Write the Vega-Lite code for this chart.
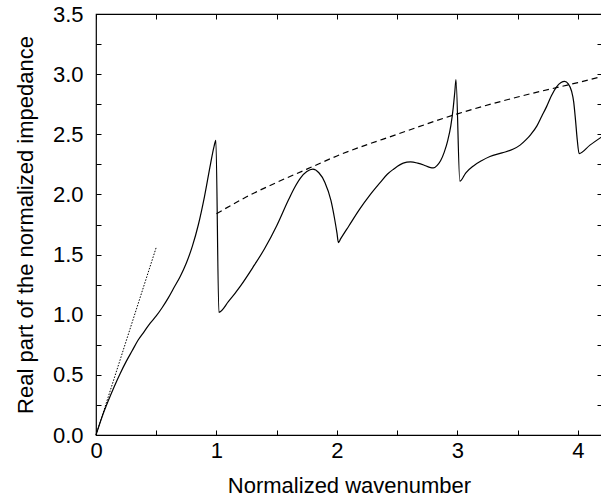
{
  "$schema": "https://vega.github.io/schema/vega-lite/v6.json",
  "autosize": "none",
  "width": 506,
  "height": 421,
  "padding": {"left": 96, "top": 14, "right": 0, "bottom": 64},
  "background": "white",
  "config": {
    "view": {"stroke": "black", "strokeWidth": 1.2}
  },
  "data": {"values": [
    {"s": "solid", "x": 0, "y": 0},
    {"s": "solid", "x": 0.05, "y": 0.15},
    {"s": "solid", "x": 0.1, "y": 0.28},
    {"s": "solid", "x": 0.15, "y": 0.4},
    {"s": "solid", "x": 0.2, "y": 0.51},
    {"s": "solid", "x": 0.25, "y": 0.61},
    {"s": "solid", "x": 0.3, "y": 0.7},
    {"s": "solid", "x": 0.35, "y": 0.79},
    {"s": "solid", "x": 0.4, "y": 0.86},
    {"s": "solid", "x": 0.45, "y": 0.93},
    {"s": "solid", "x": 0.5, "y": 0.99},
    {"s": "solid", "x": 0.55, "y": 1.06},
    {"s": "solid", "x": 0.6, "y": 1.14},
    {"s": "solid", "x": 0.65, "y": 1.23},
    {"s": "solid", "x": 0.7, "y": 1.32},
    {"s": "solid", "x": 0.75, "y": 1.43},
    {"s": "solid", "x": 0.8, "y": 1.57},
    {"s": "solid", "x": 0.85, "y": 1.75},
    {"s": "solid", "x": 0.9, "y": 1.98},
    {"s": "solid", "x": 0.95, "y": 2.25},
    {"s": "solid", "x": 0.98, "y": 2.4},
    {"s": "solid", "x": 0.995, "y": 2.45},
    {"s": "solid", "x": 1.02, "y": 1.02},
    {"s": "solid", "x": 1.1, "y": 1.11},
    {"s": "solid", "x": 1.2, "y": 1.24},
    {"s": "solid", "x": 1.3, "y": 1.39},
    {"s": "solid", "x": 1.4, "y": 1.55},
    {"s": "solid", "x": 1.5, "y": 1.74},
    {"s": "solid", "x": 1.6, "y": 1.96},
    {"s": "solid", "x": 1.65, "y": 2.06},
    {"s": "solid", "x": 1.7, "y": 2.14},
    {"s": "solid", "x": 1.75, "y": 2.19},
    {"s": "solid", "x": 1.8, "y": 2.21},
    {"s": "solid", "x": 1.85, "y": 2.18},
    {"s": "solid", "x": 1.9, "y": 2.1},
    {"s": "solid", "x": 1.95, "y": 1.95},
    {"s": "solid", "x": 1.98, "y": 1.8},
    {"s": "solid", "x": 2.0, "y": 1.68},
    {"s": "solid", "x": 2.012, "y": 1.6},
    {"s": "solid", "x": 2.03, "y": 1.63},
    {"s": "solid", "x": 2.1, "y": 1.74},
    {"s": "solid", "x": 2.19, "y": 1.88},
    {"s": "solid", "x": 2.27, "y": 1.99},
    {"s": "solid", "x": 2.36, "y": 2.1},
    {"s": "solid", "x": 2.42, "y": 2.17},
    {"s": "solid", "x": 2.47, "y": 2.21},
    {"s": "solid", "x": 2.55, "y": 2.26},
    {"s": "solid", "x": 2.61, "y": 2.27},
    {"s": "solid", "x": 2.67, "y": 2.26},
    {"s": "solid", "x": 2.72, "y": 2.245},
    {"s": "solid", "x": 2.77, "y": 2.225},
    {"s": "solid", "x": 2.8, "y": 2.22},
    {"s": "solid", "x": 2.83, "y": 2.24},
    {"s": "solid", "x": 2.86, "y": 2.28},
    {"s": "solid", "x": 2.89, "y": 2.35},
    {"s": "solid", "x": 2.92, "y": 2.45},
    {"s": "solid", "x": 2.945, "y": 2.57},
    {"s": "solid", "x": 2.965, "y": 2.72},
    {"s": "solid", "x": 2.978, "y": 2.85},
    {"s": "solid", "x": 2.988, "y": 2.955},
    {"s": "solid", "x": 3.02, "y": 2.11},
    {"s": "solid", "x": 3.07, "y": 2.18},
    {"s": "solid", "x": 3.13, "y": 2.235},
    {"s": "solid", "x": 3.2, "y": 2.28},
    {"s": "solid", "x": 3.27, "y": 2.315},
    {"s": "solid", "x": 3.37, "y": 2.345},
    {"s": "solid", "x": 3.46, "y": 2.375},
    {"s": "solid", "x": 3.52, "y": 2.41},
    {"s": "solid", "x": 3.57, "y": 2.455},
    {"s": "solid", "x": 3.61, "y": 2.5},
    {"s": "solid", "x": 3.66, "y": 2.57},
    {"s": "solid", "x": 3.7, "y": 2.65},
    {"s": "solid", "x": 3.74, "y": 2.73},
    {"s": "solid", "x": 3.78, "y": 2.82},
    {"s": "solid", "x": 3.82, "y": 2.89},
    {"s": "solid", "x": 3.86, "y": 2.93},
    {"s": "solid", "x": 3.89, "y": 2.94},
    {"s": "solid", "x": 3.92, "y": 2.92},
    {"s": "solid", "x": 3.947, "y": 2.86},
    {"s": "solid", "x": 3.965, "y": 2.77},
    {"s": "solid", "x": 3.98, "y": 2.62},
    {"s": "solid", "x": 3.995, "y": 2.45},
    {"s": "solid", "x": 4.01, "y": 2.34},
    {"s": "solid", "x": 4.1, "y": 2.41},
    {"s": "solid", "x": 4.2, "y": 2.48},
    {"s": "dashed", "x": 1.0, "y": 1.84},
    {"s": "dashed", "x": 1.25, "y": 1.98},
    {"s": "dashed", "x": 1.5, "y": 2.1},
    {"s": "dashed", "x": 1.75, "y": 2.21},
    {"s": "dashed", "x": 2.0, "y": 2.32},
    {"s": "dashed", "x": 2.5, "y": 2.5},
    {"s": "dashed", "x": 3.0, "y": 2.67},
    {"s": "dashed", "x": 3.5, "y": 2.81},
    {"s": "dashed", "x": 4.0, "y": 2.93},
    {"s": "dashed", "x": 4.2, "y": 2.98},
    {"s": "dotted", "x": 0, "y": 0},
    {"s": "dotted", "x": 0.5, "y": 1.56}
  ]},
  "layer": [
    {
      "transform": [{"filter": "datum.s === 'solid'"}],
      "mark": {"type": "line", "color": "black", "strokeWidth": 1.2, "interpolate": "monotone"},
      "encoding": {
        "x": {"field": "x", "type": "quantitative", "scale": {"domain": [0, 4.2], "nice": false, "zero": false},
          "axis": {"orient": "bottom", "grid": false, "domain": false, "tickSize": -5, "tickColor": "black", "values": [0, 0.5, 1, 1.5, 2, 2.5, 3, 3.5, 4], "format": ".0f", "labelExpr": "datum.value % 1 === 0 ? datum.label : ''", "labelFlush": false, "labelPadding": 10, "labelFont": "Liberation Sans", "labelFontSize": 22, "labelColor": "black", "title": "Normalized wavenumber", "titleFont": "Liberation Sans", "titleFontSize": 22, "titleFontWeight": "normal", "titleColor": "black", "titlePadding": 14}},
        "y": {"field": "y", "type": "quantitative", "scale": {"domain": [0, 3.5], "nice": false, "zero": false},
          "axis": {"orient": "left", "grid": false, "domain": false, "tickSize": -5, "tickColor": "black", "values": [0, 0.25, 0.5, 0.75, 1, 1.25, 1.5, 1.75, 2, 2.25, 2.5, 2.75, 3, 3.25, 3.5], "format": ".1f", "labelExpr": "(datum.value * 2) % 1 === 0 ? datum.label : ''", "labelFlush": false, "labelPadding": 18, "labelFont": "Liberation Sans", "labelFontSize": 22, "labelColor": "black", "title": "Real part of the normalized impedance", "titleFont": "Liberation Sans", "titleFontSize": 22, "titleFontWeight": "normal", "titleColor": "black", "titlePadding": 15}},
        "order": {"field": "x", "type": "quantitative"}
      }
    },
    {
      "transform": [{"filter": "datum.s === 'dashed'"}],
      "mark": {"type": "line", "color": "black", "strokeWidth": 1.2, "strokeDash": [6, 4], "interpolate": "monotone"},
      "encoding": {
        "x": {"field": "x", "type": "quantitative", "axis": {"orient": "top", "grid": false, "domain": false, "tickSize": -5, "tickColor": "black", "values": [0, 0.5, 1, 1.5, 2, 2.5, 3, 3.5, 4], "labels": false, "title": null}},
        "y": {"field": "y", "type": "quantitative", "axis": {"orient": "right", "grid": false, "domain": false, "tickSize": -5, "tickColor": "black", "values": [0, 0.25, 0.5, 0.75, 1, 1.25, 1.5, 1.75, 2, 2.25, 2.5, 2.75, 3, 3.25, 3.5], "labels": false, "title": null}}
      }
    },
    {
      "transform": [{"filter": "datum.s === 'dotted'"}],
      "mark": {"type": "line", "color": "black", "strokeWidth": 1, "strokeDash": [1.5, 1.5]},
      "encoding": {
        "x": {"field": "x", "type": "quantitative", "axis": null},
        "y": {"field": "y", "type": "quantitative", "axis": null}
      }
    }
  ],
  "resolve": {"axis": {"x": "independent", "y": "independent"}}
}
